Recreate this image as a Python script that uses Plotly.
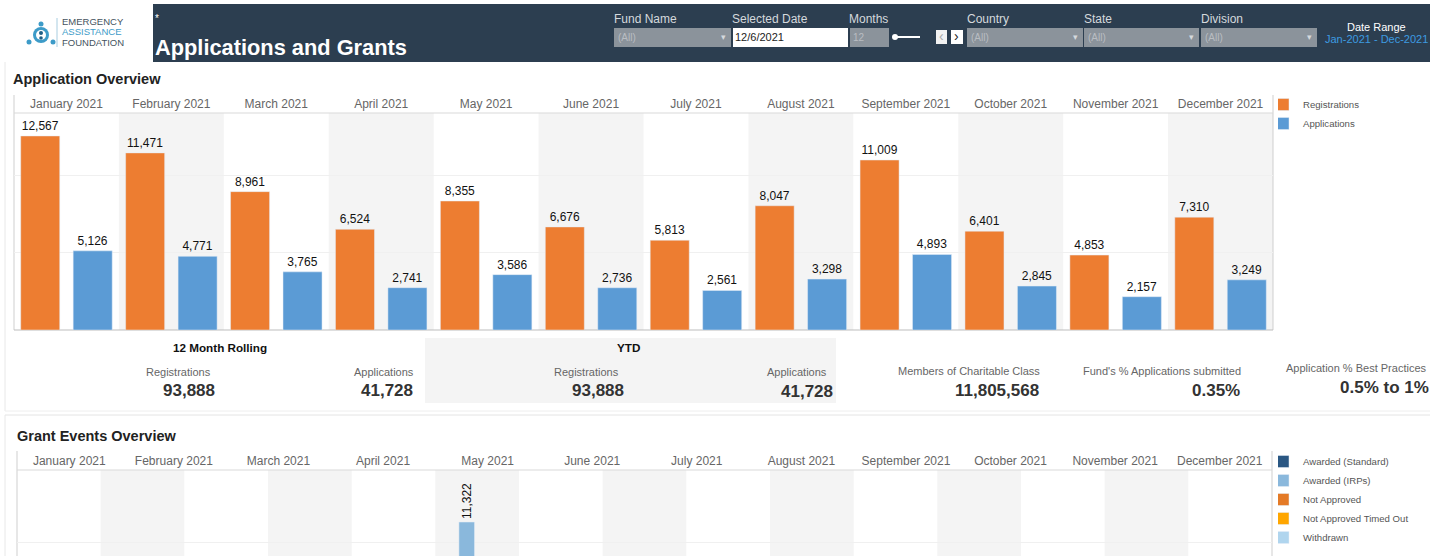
import plotly.graph_objects as go

W, H = 1430, 556
FONT = "Liberation Sans"

months = ["January 2021", "February 2021", "March 2021", "April 2021", "May 2021", "June 2021",
          "July 2021", "August 2021", "September 2021", "October 2021", "November 2021", "December 2021"]
registrations = [12567, 11471, 8961, 6524, 8355, 6676, 5813, 8047, 11009, 6401, 4853, 7310]
applications = [5126, 4771, 3765, 2741, 3586, 2736, 2561, 3298, 4893, 2845, 2157, 3249]

grant_series = ["Awarded (Standard)", "Awarded (IRPs)", "Not Approved", "Not Approved Timed Out", "Withdrawn"]
grant_colors = ["#2a5783", "#8ab8dc", "#e47a26", "#ffa600", "#b0d5ee"]
awarded_irps = [None, None, None, None, 11322, None, None, None, None, None, None, None]
empty = [None] * 12
grant_values = [empty, awarded_irps, empty, empty, empty]

filters = [("Fund Name", 614, 731), ("Country", 967, 1083), ("State", 1084, 1199), ("Division", 1201, 1317)]

kpis = [
    ("Registrations", 178, 372, "93,888", 189, 390),
    ("Applications", 384, 372, "41,728", 387, 390),
    ("Registrations", 586, 372, "93,888", 598, 390),
    ("Applications", 797, 372, "41,728", 807, 392),
    ("Members of Charitable Class", 969, 371, "11,805,568", 997, 390),
    ("Fund's % Applications submitted", 1162, 371, "0.35%", 1216, 390),
    ("Application % Best Practices", 1356, 368, "0.5% to 1%", 1384, 387),
]

fig = go.Figure()
fig.add_bar(x=months, y=registrations, name="Registrations", marker_color="#ed7d31", legend="legend",
            texttemplate="%{y:,}", textposition="outside", cliponaxis=False,
            textfont=dict(size=12, color="#111111"), xaxis="x", yaxis="y")
fig.add_bar(x=months, y=applications, name="Applications", marker_color="#5b9bd5", legend="legend",
            texttemplate="%{y:,}", textposition="outside", cliponaxis=False,
            textfont=dict(size=12, color="#111111"), xaxis="x", yaxis="y")
for name, color, vals in zip(grant_series, grant_colors, grant_values):
    fig.add_bar(x=months, y=vals, name=name, marker_color=color, legend="legend2", xaxis="x2", yaxis="y2",
                texttemplate="%{y:,}", textposition="outside", textangle=-90, cliponaxis=False,
                constraintext="none", textfont=dict(size=12, color="#111111"))

shapes, notes = [], []


def px(x):
    return x / W


def py(y):
    return 1 - y / H


def rect(x0, y0, x1, y1, fill, line=None, layer="below"):
    shapes.append(dict(type="rect", xref="paper", yref="paper", x0=px(x0), x1=px(x1), y0=py(y0), y1=py(y1),
                       fillcolor=fill, line=dict(width=1 if line else 0, color=line or fill), layer=layer))


def seg(x0, y0, x1, y1, color, width=1, layer="below"):
    shapes.append(dict(type="line", xref="paper", yref="paper", x0=px(x0), x1=px(x1), y0=py(y0), y1=py(y1),
                       line=dict(color=color, width=width), layer=layer))


def dot(cx, cy, r, color):
    shapes.append(dict(type="circle", xref="paper", yref="paper", x0=px(cx - r), x1=px(cx + r), y0=py(cy + r),
                       y1=py(cy - r), fillcolor=color, line=dict(width=0), layer="above"))


def txt(s, x, y, size=12, color="#666666", bold=False, anchor="center"):
    if anchor == "left":
        x -= 2
    notes.append(dict(text=f"<b>{s}</b>" if bold else s, xref="paper", yref="paper", x=px(x), y=py(y),
                      xanchor=anchor, yanchor="middle", showarrow=False,
                      font=dict(family=FONT, size=size, color=color)))


# cards
seg(5, 62, 5, 411, "#e8e8e8")
seg(5, 411, W, 411, "#eeeeee")
seg(5, 415, W, 415, "#e4e4e4")
seg(5, 415, 5, H, "#e8e8e8")

# header
rect(153, 4, W, 62, "#2c3e50")
txt("*", 155, 18, 10, "#ffffff", anchor="left")
txt("Applications and Grants", 155, 47, 21.8, "#ffffff", True, "left")
for label, x0, x1 in filters:
    rect(x0, 28, x1, 47, "#8b939b")
    txt(label, x0, 19, 12, "#d5d9dd", anchor="left")
    txt("(All)", x0 + 4, 37, 10, "#b9bdc2", anchor="left")
    txt("▾", x1 - 8, 37, 9, "#d5d9dd")
txt("Selected Date", 732, 19, 12, "#d5d9dd", anchor="left")
rect(733, 28, 848, 47, "#ffffff")
txt("12/6/2021", 735, 37, 11, "#222222", anchor="left")
txt("Months", 849, 19, 12, "#d5d9dd", anchor="left")
rect(850, 28, 889, 47, "#8b939b")
txt("12", 853, 37, 10, "#b9bdc2", anchor="left")
seg(895, 37, 920, 37, "#ffffff", 2)
dot(895, 37, 3, "#ffffff")
rect(936, 30, 947, 44, "#f2f2f2")
rect(951, 30, 963, 44, "#ffffff")
txt("‹", 941, 36, 14, "#aaaaaa")
txt("›", 957, 36, 14, "#222222")
txt("Date Range", 1376, 27, 11, "#ffffff")
txt("Jan-2021 - Dec-2021", 1376, 39, 11, "#3d9be0")

# logo
seg(57, 18, 57, 47, "#a8cde0")
txt("EMERGENCY", 62, 22, 9.5, "#44525e", anchor="left")
txt("ASSISTANCE", 62, 32, 9.5, "#3d9bc8", anchor="left")
txt("FOUNDATION", 62, 43, 9.5, "#44525e", anchor="left")
for cx, cy, r, c in [(41, 24, 2.5, "#3d9bc8"), (29, 42, 2.5, "#3d9bc8"), (53, 42, 2.5, "#3d9bc8"),
                     (41, 35, 8, "#3d9bc8"), (41, 35, 5, "#ffffff"), (41, 33, 2, "#1f5f86"),
                     (41, 38, 1.8, "#1f5f86")]:
    dot(cx, cy, r, c)

# section titles
txt("Application Overview", 13, 79, 14.5, "#222222", True, "left")
txt("Grant Events Overview", 17, 436, 14.5, "#222222", True, "left")

# KPI block
rect(425, 338, 836, 403, "#f4f4f4")
txt("12 Month Rolling", 220, 347, 11.7, "#111111", True)
txt("YTD", 628, 347, 11.7, "#111111", True)
for label, lx, ly, value, vx, vy in kpis:
    txt(label, lx, ly, 11, "#666666")
    txt(value, vx, vy, 17, "#333333", True)

# alternating bands: top chart follows months, bottom chart runs on 15 equal cells
for i in range(1, 12, 2):
    shapes.append(dict(type="rect", xref="x", yref="paper", x0=i - 0.5, x1=i + 0.5,
                       y0=py(330), y1=py(113), fillcolor="#f4f4f4", line=dict(width=0), layer="below"))
for i in range(1, 15, 2):
    shapes.append(dict(type="rect", xref="x2", yref="paper", x0=-0.5 + i * 0.8, x1=-0.5 + (i + 1) * 0.8,
                       y0=py(H), y1=py(470), fillcolor="#f4f4f4", line=dict(width=0), layer="below"))

# chart frames
seg(14, 95, 14, 330, "#cfcfcf")
seg(1273, 95, 1273, 330, "#cfcfcf")
seg(14, 113, 1273, 113, "#d9d9d9")
seg(14, 330, 1273, 330, "#bdbdbd")
seg(17, 451, 17, H, "#cfcfcf")
seg(1272, 451, 1272, H, "#cfcfcf")
seg(17, 470, 1272, 470, "#d9d9d9")

axis_common = dict(type="category", categoryorder="array", categoryarray=months, side="top", showgrid=False,
                   zeroline=False, showline=False, ticks="", automargin=False, ticklabelstandoff=2,
                   tickfont=dict(family=FONT, size=12, color="#666666"), tickangle=0)
yaxis_common = dict(showticklabels=False, ticks="", zeroline=False, showline=False, showgrid=True,
                    gridcolor="#f0f0f0", tick0=0, dtick=5000, automargin=False)

fig.update_layout(
    width=W, height=H, autosize=False,
    margin=dict(l=0, r=0, t=0, b=0), paper_bgcolor="#ffffff", plot_bgcolor="rgba(0,0,0,0)",
    barmode="group", bargap=0, bargroupgap=0.256,
    font=dict(family=FONT),
    xaxis=dict(domain=[px(14), px(1273)], anchor="y", **axis_common),
    yaxis=dict(domain=[py(330), py(113)], anchor="x", range=[0, 14054], **yaxis_common),
    xaxis2=dict(domain=[px(17), px(1272)], anchor="y2", **axis_common),
    yaxis2=dict(domain=[0, py(470)], anchor="x2", range=[9073, 14768], **yaxis_common),
    legend=dict(x=px(1278), y=py(90), xanchor="left", yanchor="top", bgcolor="rgba(0,0,0,0)", indentation=-15,
                font=dict(size=9.6, color="#555555", family=FONT), traceorder="normal"),
    legend2=dict(x=px(1278), y=py(447), xanchor="left", yanchor="top", bgcolor="rgba(0,0,0,0)", indentation=-15,
                 font=dict(size=9.6, color="#555555", family=FONT), traceorder="normal"),
    shapes=shapes, annotations=notes,
)

fig.write_html("out.html", config=dict(displayModeBar=False),
               post_script="document.body.style.margin='0';document.documentElement.style.overflow='hidden';")
